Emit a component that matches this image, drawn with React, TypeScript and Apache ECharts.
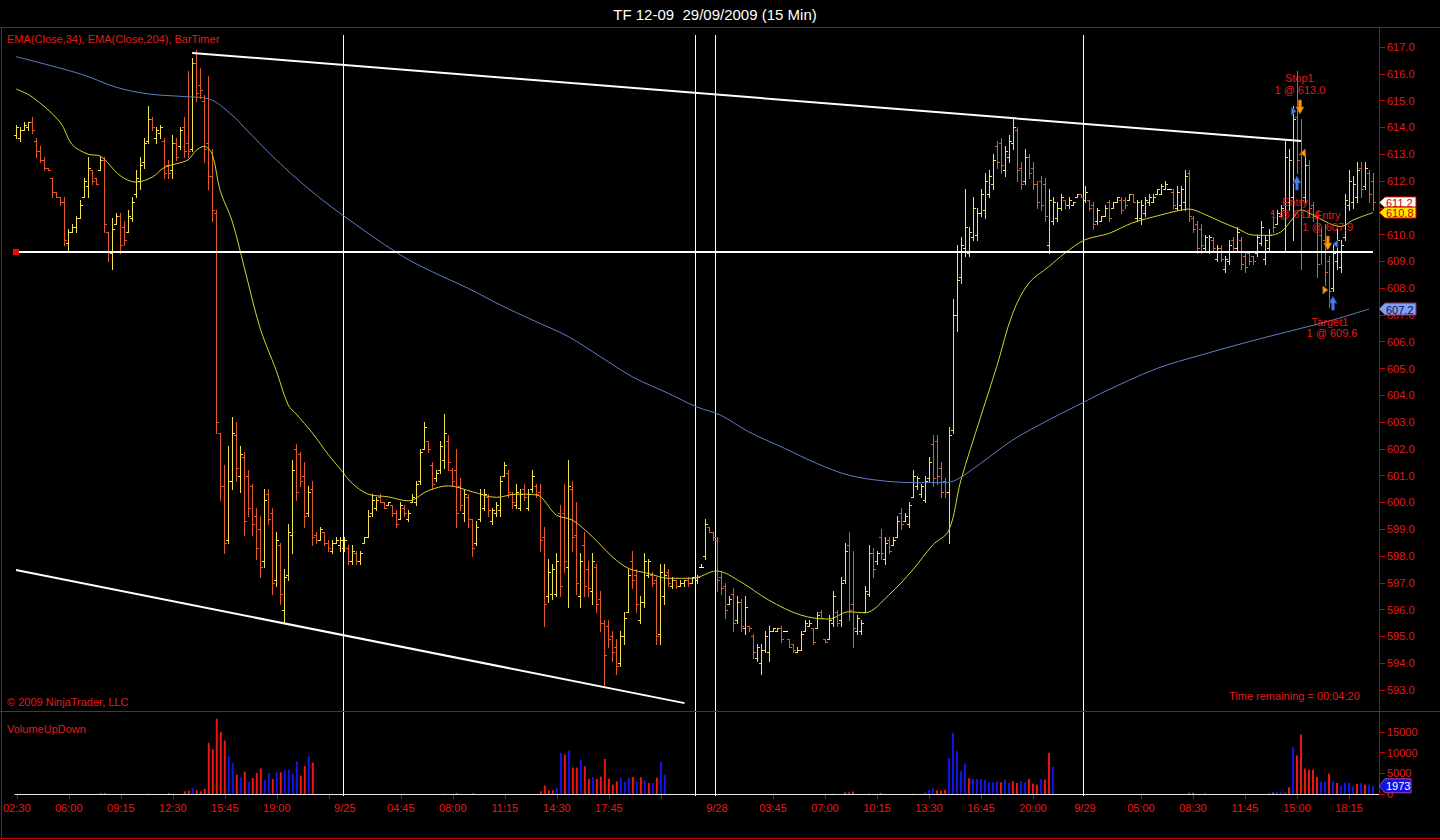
import React, { useEffect, useRef } from "react";
import * as echarts from "echarts";

// [open, high, low, close] per 15-min bar
type Bar = [number, number, number, number];

const sep24: Bar[] = [
  [613.7,614.1,613.6,614.0],[613.6,614.0,613.5,613.9],[613.9,614.2,613.9,614.1],[614.0,614.2,613.9,614.2],
  [614.2,614.4,613.8,613.9],[613.5,613.6,612.9,613.1],[613.1,613.3,612.7,612.8],[612.8,612.9,612.4,612.5],
  [612.5,612.5,612.4,612.4],[612.1,612.1,611.4,611.6],[611.6,611.6,611.4,611.4],[611.4,611.4,611.1,611.2],
  [611.2,611.4,609.6,609.8],[609.7,610.2,609.4,610.1],[610.1,610.4,610.1,610.3],[610.3,610.7,610.1,610.6],
  [610.6,611.3,610.6,611.1],[611.4,612.1,611.4,612.0],[611.8,612.9,611.4,612.5],[612.4,612.4,611.9,612.0],
  [612.1,612.1,611.9,611.9],[612.4,612.9,612.4,612.8],[612.8,612.9,610.1,610.4],[610.1,610.1,609.0,609.4],
  [609.3,610.6,608.7,610.2],[610.4,610.8,610.4,610.7],[610.7,610.8,609.3,609.6],[610.3,610.5,609.6,609.8],
  [610.1,610.9,610.1,610.7],[610.6,611.4,610.5,611.2],[611.5,612.4,611.4,612.1],[612.0,612.9,611.7,612.6],
  [612.7,613.6,612.5,613.4],[613.5,614.8,613.4,614.3],[614.3,614.4,613.9,614.0],[613.6,614.0,613.4,613.9],
  [613.8,614.1,613.6,614.0],[613.5,613.6,612.1,612.3],[612.6,612.8,612.1,612.3],[612.4,613.7,612.1,613.4],
  [613.4,613.6,612.8,612.9],[613.3,614.0,613.2,613.9],[614.0,614.4,612.9,613.1],[613.4,616.1,612.9,613.1],
  [613.2,616.6,613.1,616.4],[616.4,616.9,615.0,615.3],[615.6,616.2,615.1,615.4],[615.0,615.2,612.7,613.2],
  [613.4,615.9,611.7,612.2],[612.2,613.2,610.5,610.9],[610.8,610.9,602.6,603.0],[602.6,602.6,600.1,600.6],
  [600.6,601.4,598.1,598.5],[598.6,602.1,598.5,600.8],[600.8,603.2,600.5,602.6],[602.5,603.0,600.8,601.3],
  [601.0,602.1,600.4,601.8],[601.7,601.9,598.8,599.3],[601.0,601.2,599.5,599.8],[600.6,600.7,598.8,599.2],
  [599.5,599.8,597.9,598.3],[599.0,599.5,597.2,597.6],[597.8,600.5,597.6,600.1],[600.3,600.5,599.2,599.4],
  [599.6,599.8,596.6,597.0],[597.1,598.9,596.9,598.6],[598.4,598.5,596.2,596.6],[596.0,597.5,595.5,597.2],
  [597.3,599.2,597.1,598.9],[598.8,601.6,598.1,601.2],[602.0,602.2,600.1,600.4],[601.8,601.9,600.6,600.8],
  [601.0,601.5,599.1,599.5],[599.6,600.6,599.5,600.4],[600.5,600.8,598.4,598.7],[598.8,598.9,598.5,598.6],
  [598.6,599.1,598.6,599.0],[598.9,598.9,598.4,598.5],[598.5,598.6,598.2,598.3],[598.2,598.6,598.1,598.5],
  [598.5,598.7,598.5,598.6],[598.4,598.7,598.2,598.6],
];

const sep25: Bar[] = [
  [598.3,598.7,598.2,598.6],[598.3,598.4,597.7,597.8],[597.8,598.4,597.7,598.2],[598.1,598.2,597.7,597.8],
  [597.8,598.2,597.7,598.1],[598.5,598.7,598.5,598.7],[598.7,599.7,598.7,599.5],[599.6,600.3,599.5,600.1],
  [599.8,600.2,599.7,600.1],[600.2,600.3,600.0,600.0],[600.0,600.0,599.8,599.8],[599.9,600.0,599.9,600.0],
  [599.9,599.9,599.5,599.6],[599.6,599.7,599.1,599.2],[599.4,600.0,599.4,599.9],[599.8,599.9,599.5,599.6],
  [599.4,599.7,599.3,599.6],[600.0,600.3,600.0,600.2],[600.0,600.8,599.9,600.7],[600.8,602.0,600.7,601.9],
  [602.0,603.0,602.0,602.8],[602.3,602.3,601.9,602.0],[601.4,601.5,600.5,600.7],[600.9,601.2,600.8,601.1],
  [601.2,602.3,601.1,602.1],[601.6,603.3,601.3,602.6],[602.3,602.5,601.2,601.5],[601.2,601.3,600.6,600.8],
  [601.2,602.0,599.1,599.6],[600.6,600.9,599.7,599.9],[599.6,600.5,599.3,600.3],[600.2,600.3,599.1,599.4],
  [599.4,599.4,598.0,598.3],[598.5,599.3,598.4,599.1],[599.4,600.5,599.3,600.3],[599.8,600.5,599.7,600.3],
  [600.2,600.3,599.5,599.7],[599.3,599.8,599.2,599.7],[599.6,600.0,599.5,599.9],[599.7,601.0,599.5,600.8],
  [601.0,601.5,601.0,601.4],[601.1,601.2,600.2,600.4],[600.3,600.4,599.8,600.0],[599.9,600.7,599.8,600.4],
  [599.8,600.5,599.7,600.3],[600.5,600.7,600.1,600.2],[599.8,600.5,599.7,600.3],[600.5,601.2,600.4,601.0],
  [600.6,600.7,600.2,600.3],[600.4,600.7,598.2,598.6],[598.7,599.1,595.4,596.2],[596.5,597.9,596.3,597.4],
  [596.6,597.7,596.4,597.5],[596.6,598.1,596.5,597.8],[599.6,599.9,596.5,596.9],[599.6,600.7,597.4,597.8],
  [597.6,601.6,596.1,600.6],[600.5,600.8,598.2,598.7],[598.8,600.0,596.6,597.0],[596.5,598.1,596.1,597.8],
  [598.4,598.9,596.5,596.9],[597.5,597.8,596.5,596.8],[596.7,598.1,596.2,597.8],[597.6,597.7,595.9,596.2],
  [596.4,596.7,595.2,595.5],[595.5,595.6,593.1,594.3],[595.4,595.6,594.6,594.9],[595.0,595.2,594.1,594.4],
  [594.6,594.9,593.6,593.9],[594.0,595.2,593.9,595.0],[595.0,595.9,594.7,595.7],[595.9,597.5,595.9,597.3],
  [597.8,598.2,596.8,597.1],[597.3,597.5,595.9,596.2],[595.6,596.5,595.5,596.3],[596.3,598.1,596.1,597.8],
  [597.3,597.9,597.2,597.8],[597.3,597.4,596.9,597.0],[597.1,597.2,594.7,595.0],[595.1,597.7,594.7,597.4],
  [596.5,597.7,596.2,597.3],[597.4,597.5,596.9,597.0],[596.9,597.2,596.8,597.1],[597.1,597.1,596.8,596.9],
  [596.9,597.1,596.9,597.0],[597.0,597.1,596.9,597.1],[597.1,597.2,596.9,597.0],[597.0,597.2,597.0,597.2],
];

const sep27: Bar[] = [
  [597.1,597.3,597.0,597.2],[597.6,597.7,597.6,597.6],[598.0,599.4,597.9,599.2],[599.1,599.1,598.9,598.9],
  [598.9,598.9,598.6,598.7],
];

const sep28: Bar[] = [
  [598.6,598.7,596.7,597.1],[597.2,597.4,596.6,596.8],[596.9,597.0,595.7,596.0],[596.2,596.5,596.2,596.4],
  [596.6,596.8,595.2,595.5],[595.6,596.5,595.5,596.3],[596.3,596.4,595.2,595.4],[595.3,596.5,595.1,596.1],
  [595.4,595.4,595.2,595.3],[595.0,595.1,594.2,594.4],[594.2,594.7,594.1,594.6],[594.0,594.7,593.6,594.5],
  [594.5,595.2,594.4,595.0],[594.4,595.4,594.1,595.2],[595.2,595.3,595.2,595.3],[595.2,595.3,595.2,595.3],
  [595.3,595.4,594.8,594.9],[595.2,595.2,595.2,595.2],[594.9,594.9,594.6,594.6],[594.7,594.7,594.4,594.5],
  [594.4,594.6,594.4,594.5],[594.5,595.2,594.5,595.1],[595.2,595.6,595.2,595.5],[595.4,595.6,595.4,595.5],
  [595.3,595.3,594.7,594.8],[595.3,595.9,595.3,595.8],[595.9,596.0,595.7,595.7],[594.9,594.9,594.8,594.8],
  [594.9,595.8,594.9,595.6],[595.5,596.7,595.4,596.5],[595.9,596.0,595.4,595.5],[595.6,597.2,595.4,597.0],
  [597.1,598.5,597.0,598.2],[598.4,598.9,595.6,596.0],[596.2,598.2,594.6,595.3],[595.2,595.8,595.1,595.7],
  [595.2,595.6,595.1,595.5],[595.9,596.9,595.9,596.7],[596.6,598.4,596.5,598.1],[598.1,598.3,597.2,597.5],
  [597.8,598.2,597.7,598.1],[598.7,599.0,597.9,598.1],[597.9,598.7,597.7,598.5],[598.6,598.7,598.1,598.2],
  [598.4,598.7,598.4,598.6],[598.7,599.5,598.7,599.3],[599.6,599.8,599.0,599.2],[599.3,599.6,599.3,599.5],
  [599.2,600.0,599.1,599.9],[600.2,601.2,600.2,601.0],[600.6,601.0,600.5,600.9],[600.3,600.7,600.2,600.6],
  [600.1,601.0,600.0,600.8],[600.9,601.7,600.8,601.5],[602.2,602.5,600.6,600.9],[602.3,602.5,600.7,601.0],
  [601.3,601.5,600.2,600.4],[600.8,600.9,600.2,600.4],[600.4,602.8,598.5,602.5],[602.7,607.6,602.6,607.0],
  [607.0,609.6,606.4,608.3],[608.4,609.9,608.2,609.6],[609.5,611.7,609.2,610.3],[609.3,610.3,609.2,610.1],
  [609.9,611.4,609.8,611.0],[610.0,611.0,609.8,610.8],[610.8,611.7,610.7,611.5],[610.9,612.3,610.6,612.0],
  [611.5,612.4,611.4,612.2],[611.9,613.0,611.7,612.8],[613.3,613.5,612.5,612.7],[613.4,613.6,612.3,612.6],
  [612.4,613.3,612.2,613.1],[612.9,613.7,612.7,613.5],[613.4,614.3,613.2,614.0],[613.9,614.0,612.0,612.4],
  [612.5,612.7,611.7,611.9],[612.0,613.2,611.9,612.9],[612.9,613.0,612.1,612.3],[612.5,612.7,611.7,611.9],
  [611.9,612.0,611.0,611.2],[612.0,612.2,610.9,611.1],[611.9,612.1,610.5,610.7],[609.6,611.7,609.3,611.3],
  [610.5,611.4,610.4,611.2],[610.6,611.2,610.5,611.0],[611.0,611.5,610.9,611.4],[611.3,611.3,611.0,611.1],
  [611.1,611.4,611.0,611.3],[611.1,611.2,611.1,611.2],[611.4,611.5,611.4,611.5],[611.5,611.5,611.4,611.4],
];

const sep29: Bar[] = [
  [611.3,611.8,611.2,611.6],[611.3,611.3,610.9,611.0],[611.1,611.2,610.2,610.4],[610.5,611.0,610.4,610.9],
  [610.5,610.7,610.5,610.7],[610.7,611.1,610.7,611.0],[611.2,611.3,610.5,610.6],[611.0,611.2,611.0,611.2],
  [611.2,611.4,611.2,611.4],[611.3,611.4,610.8,610.9],[611.3,611.4,611.0,611.1],[611.3,611.5,611.3,611.5],
  [611.5,611.5,611.2,611.2],[610.6,611.3,610.5,611.2],[610.6,611.3,610.4,611.1],[610.8,611.4,610.7,611.3],
  [611.2,611.5,611.1,611.4],[611.2,611.5,611.2,611.4],[611.5,611.7,611.5,611.7],[611.5,611.9,611.5,611.8],
  [611.7,612.0,611.7,611.9],[611.7,611.7,611.7,611.7],[611.6,611.7,611.0,611.1],[611.0,611.8,610.9,611.6],
  [611.1,611.8,610.9,611.7],[611.2,612.4,610.9,612.2],[612.3,612.4,610.5,610.7],[610.6,610.7,610.1,610.2],
  [610.4,610.5,609.3,609.5],[610.2,610.4,609.3,609.6],[609.5,610.0,609.4,609.9],[609.4,610.0,609.3,609.9],
  [609.8,609.9,609.4,609.5],[609.1,609.6,609.0,609.5],[609.5,609.6,609.0,609.1],[608.7,609.2,608.6,609.1],
  [609.0,609.8,608.9,609.6],[609.8,609.9,609.4,609.5],[609.5,610.3,609.4,610.1],[609.8,609.9,608.7,608.9],
  [609.2,609.3,608.6,608.8],[609.3,609.4,608.9,609.0],[609.2,609.2,608.9,609.0],[609.3,610.0,609.2,609.9],
  [609.7,610.5,609.6,610.3],[609.1,610.0,608.9,609.8],[609.5,610.2,609.4,610.0],[610.8,610.9,610.1,610.3],
  [610.4,610.9,610.4,610.8],[610.7,611.1,610.7,611.0],[610.9,613.5,609.4,612.9],[611.2,613.2,610.9,612.8],
  [611.4,614.8,609.8,614.3],[614.4,616.1,612.3,612.8],[613.0,614.3,608.7,611.3],[611.4,613.0,611.2,612.6],
  [612.6,612.8,610.7,611.0],[611.1,611.2,610.5,610.7],[610.6,610.7,608.4,608.9],[610.0,610.3,608.9,609.4],
  [609.8,610.4,608.1,608.6],[609.0,609.2,607.3,607.9],[608.0,609.6,607.9,609.3],[609.0,610.2,608.7,609.8],
  [608.8,609.8,608.6,609.6],[609.9,611.5,609.8,611.3],[611.1,612.4,610.9,612.0],[611.2,612.2,611.0,611.9],
  [611.4,612.7,611.2,612.4],[612.5,612.7,611.4,611.7],[611.8,612.7,611.7,612.5],[612.3,612.4,611.2,611.5],
  [612.0,612.3,610.9,611.2],
];

const ohlc: Bar[] = [...sep24, ...sep25, ...sep27, ...sep28, ...sep29];

// [bar index, volume, side] — VolumeUpDown: 'u' = up volume (blue), 'd' = down volume (red)
const volumeBars: [number, number, "u" | "d"][] = [
  [21,250,"d"],[22,250,"d"],[33,200,"u"],[38,250,"d"],[42,650,"d"],[43,800,"d"],[44,1450,"u"],[45,890,"d"],
  [46,650,"d"],[47,1290,"d"],[48,12330,"d"],[49,10720,"d"],[50,18130,"d"],[51,14990,"d"],[52,12900,"d"],
  [53,9270,"u"],[54,7500,"u"],[55,4680,"d"],[56,4110,"u"],[57,5400,"d"],[58,2980,"u"],[59,3870,"d"],
  [60,5080,"d"],[61,6200,"d"],[62,3470,"u"],[63,5080,"u"],[64,3630,"d"],[65,5240,"u"],[66,5240,"d"],
  [67,5800,"u"],[68,5880,"u"],[69,4920,"u"],[70,7900,"u"],[71,4430,"d"],[72,6770,"d"],[73,9270,"u"],
  [74,7580,"d"],
  [107,150,"u"],[110,250,"d"],[114,200,"d"],[131,650,"d"],[132,2020,"d"],[133,890,"d"],[134,890,"d"],
  [135,1450,"u"],[136,9910,"u"],[137,9510,"d"],[138,10480,"u"],[139,6370,"d"],[140,6370,"d"],[141,8300,"u"],
  [142,6690,"d"],[143,3630,"d"],[144,4110,"u"],[145,3630,"d"],[146,4190,"d"],[147,8460,"d"],[148,3710,"d"],
  [149,2260,"d"],[150,3060,"d"],[151,3950,"u"],[152,2900,"u"],[153,3950,"u"],[154,4110,"d"],[155,2980,"u"],
  [156,4030,"d"],[157,3300,"u"],[158,2660,"d"],[159,2660,"u"],[160,3950,"d"],[161,7740,"u"],[162,4680,"u"],
  [204,150,"u"],[207,400,"d"],[208,400,"d"],[209,600,"d"],[213,200,"u"],[216,250,"d"],[224,150,"u"],
  [227,400,"u"],[228,1050,"u"],[229,1370,"u"],[230,890,"d"],[231,800,"d"],[232,1050,"d"],[233,8700,"u"],
  [234,14750,"u"],[235,10320,"u"],[236,5480,"u"],[237,7330,"u"],[238,3790,"d"],[239,3630,"u"],[240,3630,"u"],
  [241,3630,"u"],[242,3470,"u"],[243,2820,"u"],[244,2820,"u"],[245,3060,"u"],[246,2820,"d"],[247,3470,"u"],
  [248,2660,"u"],[249,3060,"d"],[250,2660,"d"],[251,3060,"u"],[252,2820,"u"],[253,3630,"d"],[254,2500,"d"],
  [255,2260,"d"],[256,3630,"u"],[257,3470,"d"],[258,9910,"d"],[259,6530,"u"],
  [293,300,"d"],[294,300,"d"],[297,250,"u"],[313,300,"u"],[314,400,"d"],[315,500,"u"],[316,400,"u"],
  [317,600,"u"],[318,1610,"d"],[319,11280,"u"],[320,9270,"d"],[321,14350,"d"],[322,6130,"d"],[323,5880,"d"],
  [324,5880,"d"],[325,4110,"d"],[326,2980,"u"],[327,2980,"u"],[328,4920,"d"],[329,2980,"u"],[330,2660,"d"],
  [331,2020,"u"],[332,2740,"u"],[333,2740,"u"],[334,1850,"u"],[335,2420,"d"],[336,2580,"u"],[337,2260,"d"],
  [338,2260,"u"],[339,1973,"u"],
];

// EMA readings [bar index, value]
const ema34: [number, number][] = [
  [0,615.43],[4,615.14],[11,614.2],[14,613.36],[18,613.0],[21,612.93],[26,612.2],[30,611.96],[34,612.14],
  [37,612.5],[40,612.64],[43,612.79],[45,613.14],[47,613.29],[49,613.0],[51,611.64],[54,610.5],[57,608.79],
  [61,606.5],[65,604.93],[68,603.64],[70,603.3],[74,602.6],[78,601.79],[81,601.25],[84,600.71],[88,600.31],
  [93,600.21],[98,600.06],[103,600.44],[108,600.62],[114,600.4],[120,600.19],[125,600.31],[130,600.28],
  [135,599.53],[139,599.34],[144,598.72],[149,597.97],[153,597.54],[158,597.35],[163,597.17],[169,597.17],
  [175,597.44],[181,597.04],[188,596.36],[196,595.8],[203,595.65],[208,595.92],[212,595.88],[218,596.54],
  [224,597.48],[229,598.41],[233,598.95],[236,600.8],[241,603.2],[245,605.07],[249,607.06],[253,608.18],
  [258,608.8],[262,609.3],[267,609.8],[273,610.04],[279,610.44],[286,610.73],[290,610.88],[293,610.95],
  [297,610.75],[301,610.48],[305,610.23],[309,609.98],[313,609.97],[316,610.1],[319,610.6],[321,610.92],
  [324,610.73],[328,610.42],[331,610.3],[334,610.54],[339,610.82],
];
const ema204: [number, number][] = [
  [0,616.64],[8,616.33],[17,615.95],[25,615.5],[33,615.25],[42,615.15],[48,615.07],[54,614.46],[57,614.0],
  [65,612.79],[73,611.72],[81,610.79],[96,609.24],[104,608.61],[113,607.99],[121,607.37],[129,606.81],
  [138,606.19],[146,605.44],[154,604.69],[163,604.07],[170,603.57],[176,603.26],[183,602.64],[192,602.02],
  [200,601.46],[208,601.02],[217,600.8],[225,600.74],[232,600.74],[235,600.85],[241,601.46],[249,602.33],
  [258,603.08],[267,603.76],[271,604.07],[285,605.0],[296,605.5],[308,606.0],[321,606.5],[329,606.81],
  [338,607.22],
];

const timeTicks: [number, string][] = [
  [0,"02:30"],[13,"06:00"],[26,"09:15"],[39,"12:30"],[52,"15:45"],[65,"19:00"],[78,""],
  [96,"04:45"],[109,"08:00"],[122,"11:15"],[135,"14:30"],[148,"17:45"],[161,""],
  [189,"03:45"],[202,"07:00"],[215,"10:15"],[228,"13:30"],[241,"16:45"],[254,"20:00"],
  [281,"05:00"],[294,"08:30"],[307,"11:45"],[320,"15:00"],[333,"18:15"],
];
const dateLabels: [number, string][] = [[82,"9/25"],[175,"9/28"],[267,"9/29"]];
const priceTicks = [593,594,595,596,597,598,599,600,601,602,603,604,605,606,607,608,609,610,611,612,613,614,615,616,617];
// 611.0 sits under the last-price markers in the reference, so its label is not shown
const priceLabels = [593,594,595,596,597,598,599,600,601,602,603,604,605,606,607,608,609,610,612,613,614,615,616,617];
const volumeTicks = [0, 5000, 10000, 15000];
const sessionStarts = [82, 170, 175, 267];

// drawn objects
const levelLine: [number, number][] = [[0,609.35],[169,609.35],[339,609.35]];
const upperTrend: [number, number][] = [[44,616.78],[321,613.49]];
const lowerTrend: [number, number][] = [[0,597.48],[167,592.51]];

// trade annotations (bar position, price level, text)
const tradeTexts: [number, number, string][] = [
  [320.6,615.83,"Stop1"],[320.75,615.39,"1 @ 613.0"],
  [319.5,611.2,"Entry"],[319.5,610.77,"1 @ 611.4"],
  [327.7,610.73,"Entry"],[327.7,610.27,"1 @ 607.9"],
  [328.25,606.75,"Target1"],[328.75,606.31,"1 @ 609.6"],
];
const tradeMarks: [number, number, string][] = [
  [320.75,614.76,"downArrow"],[319.2,614.6,"triRight"],[321.5,613.04,"triLeft"],[320,611.92,"upArrow"],
  [327.7,609.68,"downArrow"],[329.6,609.65,"triLeftBlue"],[327.1,607.93,"triRightOrange"],[329,607.44,"upArrow"],
];

const FONT = '"Liberation Sans", Arial, Helvetica, sans-serif';
const RED_TEXT = "#e01c1c";
const FRAME = "#c80000";
const UP = "#f2e24e";
const DOWN = "#e2592c";
const DOJI = "#ffffff";
const VOL_UP = "#1414e8";
const VOL_DOWN = "#ee1414";
const EMA34_COLOR = "#d4d42a";
const EMA204_COLOR = "#5f7fc6";

// layout
const GRID_LEFT = 14;
const GRID_RIGHT = 61;
const PRICE_TOP = 27;
const PRICE_HEIGHT = 684;
const PRICE_MAX = 617 + 20 * (24 / 643);
const PRICE_MIN = 593 - 21 * (24 / 643);
const VOL_TOP = 711;
const VOL_HEIGHT = 83;

function buildOption(): any {
  const slotCount = ohlc.length + 1;
  const categories = Array.from({ length: slotCount }, (_, i) => String(i));
  const labelMap = new Map<number, string>([...timeTicks, ...dateLabels]);
  const tickSet = new Set(timeTicks.map((t) => t[0]));
  const volMap = new Map<number, [number, string]>();
  volumeBars.forEach(([i, v, s]) => volMap.set(i, [v, s]));
  const volData = ohlc.map((_, i) => {
    const e = volMap.get(i);
    return e
      ? { value: e[0], itemStyle: { color: e[1] === "u" ? VOL_UP : VOL_DOWN } }
      : { value: 0, itemStyle: { color: VOL_UP } };
  });

  const axisText = { color: RED_TEXT, fontSize: 11, fontFamily: FONT };

  return {
    animation: false,
    backgroundColor: "#000000",
    grid: [
      { left: GRID_LEFT, right: GRID_RIGHT, top: PRICE_TOP, height: PRICE_HEIGHT },
      { left: GRID_LEFT, right: GRID_RIGHT, top: VOL_TOP, height: VOL_HEIGHT },
    ],
    xAxis: [
      { type: "category", gridIndex: 0, data: categories, show: false },
      {
        type: "category",
        gridIndex: 1,
        data: categories,
        offset: 2,
        axisLine: { show: true, lineStyle: { color: FRAME, width: 1 } },
        axisTick: {
          show: true,
          alignWithLabel: true,
          length: 5,
          interval: (i: number) => tickSet.has(i),
          lineStyle: { color: FRAME },
        },
        axisLabel: {
          ...axisText,
          margin: 6,
          interval: (i: number) => labelMap.has(i),
          formatter: (v: string) => labelMap.get(Number(v)) ?? "",
        },
        splitLine: { show: false },
      },
    ],
    yAxis: [
      {
        type: "value",
        gridIndex: 0,
        position: "right",
        min: PRICE_MIN,
        max: PRICE_MAX,
        axisLine: { show: true, lineStyle: { color: FRAME } },
        axisTick: { show: true, length: 6, lineStyle: { color: FRAME }, customValues: priceTicks },
        axisLabel: { ...axisText, margin: 8, customValues: priceLabels, formatter: (v: number) => v.toFixed(1) },
        splitLine: { show: false },
      },
      {
        type: "value",
        gridIndex: 1,
        position: "right",
        min: 0,
        max: 20000,
        axisLine: { show: true, lineStyle: { color: FRAME } },
        axisTick: { show: true, length: 6, lineStyle: { color: FRAME }, customValues: volumeTicks },
        axisLabel: { ...axisText, margin: 8, customValues: volumeTicks, formatter: (v: number) => String(v) },
        splitLine: { show: false },
      },
    ],
    series: [
      {
        type: "custom",
        name: "TF 12-09",
        xAxisIndex: 0,
        yAxisIndex: 0,
        clip: true,
        z: 2,
        data: ohlc.map((b, i) => [i, b[0], b[1], b[2], b[3]]),
        encode: { x: 0, y: [1, 2, 3, 4] },
        renderItem: (_params: any, api: any) => {
          const i = api.value(0);
          const o = api.value(1);
          const h = api.value(2);
          const l = api.value(3);
          const c = api.value(4);
          const pH = api.coord([i, h]);
          const pL = api.coord([i, l]);
          const yo = Math.round(api.coord([i, o])[1]) + 0.5;
          const yc = Math.round(api.coord([i, c])[1]) + 0.5;
          const x = Math.round(pH[0]) + 0.5;
          const y1 = Math.round(pH[1]);
          const y2 = Math.max(Math.round(pL[1]) + 1, y1 + 1);
          const color = c > o ? UP : c < o ? DOWN : DOJI;
          const st = { stroke: color, lineWidth: 1 };
          return {
            type: "group",
            children: [
              { type: "line", shape: { x1: x, y1, x2: x, y2 }, style: st },
              { type: "line", shape: { x1: x - 2.5, y1: yo, x2: x, y2: yo }, style: st },
              { type: "line", shape: { x1: x, y1: yc, x2: x + 2.5, y2: yc }, style: st },
            ],
          };
        },
      },
      {
        type: "line",
        name: "EMA(Close,34)",
        xAxisIndex: 0,
        yAxisIndex: 0,
        data: ema34,
        smooth: 0.35,
        showSymbol: false,
        z: 3,
        lineStyle: { color: EMA34_COLOR, width: 1 },
      },
      {
        type: "line",
        name: "EMA(Close,204)",
        xAxisIndex: 0,
        yAxisIndex: 0,
        data: ema204,
        smooth: 0.35,
        showSymbol: false,
        z: 3,
        lineStyle: { color: EMA204_COLOR, width: 1 },
      },
      {
        type: "line",
        name: "level",
        xAxisIndex: 0,
        yAxisIndex: 0,
        data: levelLine,
        symbol: "rect",
        symbolSize: 6,
        showSymbol: true,
        z: 5,
        itemStyle: { color: "#ff0000" },
        lineStyle: { color: "#ffffff", width: 2 },
      },
      {
        type: "line",
        name: "trend-upper",
        xAxisIndex: 0,
        yAxisIndex: 0,
        data: upperTrend,
        showSymbol: false,
        z: 5,
        lineStyle: { color: "#ffffff", width: 2 },
      },
      {
        type: "line",
        name: "trend-lower",
        xAxisIndex: 0,
        yAxisIndex: 0,
        data: lowerTrend,
        showSymbol: false,
        z: 5,
        lineStyle: { color: "#ffffff", width: 2 },
      },
      {
        type: "bar",
        name: "VolumeUpDown",
        xAxisIndex: 1,
        yAxisIndex: 1,
        data: volData,
        barWidth: 2,
        z: 2,
        markLine: {
          silent: true,
          symbol: "none",
          label: { show: false },
          lineStyle: { color: "#e8e8e8", width: 1, type: "solid" },
          data: [{ yAxis: 0 }],
        },
      },
    ],
  };
}

function buildGraphics(chart: any): any[] {
  const x0 = chart.convertToPixel({ xAxisIndex: 0 }, 0) as number;
  const x1 = chart.convertToPixel({ xAxisIndex: 0 }, 1) as number;
  const px = (bar: number) => x0 + (x1 - x0) * bar;
  const py = (p: number) => chart.convertToPixel({ yAxisIndex: 0 }, p) as number;
  const vy = (v: number) => chart.convertToPixel({ yAxisIndex: 1 }, v) as number;
  const axisX = 1440 - GRID_RIGHT;

  const els: any[] = [];
  const hLine = (y: number, xa: number, xb: number, color: string) =>
    els.push({ type: "line", z: 90, silent: true, shape: { x1: xa, y1: y, x2: xb, y2: y }, style: { stroke: color, lineWidth: 1 } });
  const vLine = (x: number, ya: number, yb: number, color: string, z = 90) =>
    els.push({ type: "line", z, silent: true, shape: { x1: x, y1: ya, x2: x, y2: yb }, style: { stroke: color, lineWidth: 1 } });

  // panel frame
  hLine(27.5, 0, 1440, FRAME);
  hLine(711.5, 0, 1440, FRAME);
  hLine(838.5, 0, 1440, FRAME);
  vLine(1.5, 27, 839, FRAME);

  // session break lines
  sessionStarts.forEach((s) => vLine(Math.floor(px(s)) - 0.5, 35, 796, "#ffffff", 1));

  const text = (x: number, y: number, t: string, color: string, size: number, align = "left") =>
    els.push({
      type: "text",
      z: 100,
      silent: true,
      x,
      y,
      style: { text: t, fill: color, font: `${size}px ${FONT}`, align, verticalAlign: "middle" },
    });

  text(715, 14, "TF 12-09  29/09/2009 (15 Min)", "#ffffff", 15, "center");
  text(7, 39, "EMA(Close,34), EMA(Close,204), BarTimer", RED_TEXT, 11);
  text(7, 702, "\u00a9 2009 NinjaTrader, LLC", RED_TEXT, 11);
  text(1229, 696, "Time remaining = 00:04:20", RED_TEXT, 11);
  text(7, 729, "VolumeUpDown", RED_TEXT, 11);

  // trade annotations
  tradeTexts.forEach(([b, p, t]) => text(px(b), py(p), t, RED_TEXT, 11, "center"));
  const ORANGE = "#ff9c00";
  const ORANGE_EDGE = "#a85a00";
  const BLUE = "#4c7fe0";
  const BLUE_EDGE = "#1c3c90";
  tradeMarks.forEach(([b, p, kind]) => {
    const cx = px(b);
    const cy = py(p);
    let points: number[][] = [];
    let fill = ORANGE;
    let stroke = ORANGE_EDGE;
    if (kind === "downArrow") {
      points = [[cx - 1.5, cy - 7], [cx + 1.5, cy - 7], [cx + 1.5, cy], [cx + 4, cy], [cx, cy + 7], [cx - 4, cy], [cx - 1.5, cy]];
    } else if (kind === "upArrow") {
      points = [[cx - 1.5, cy + 7], [cx + 1.5, cy + 7], [cx + 1.5, cy], [cx + 4, cy], [cx, cy - 7], [cx - 4, cy], [cx - 1.5, cy]];
      fill = BLUE;
      stroke = BLUE_EDGE;
    } else if (kind === "triRight" || kind === "triRightOrange") {
      points = [[cx - 2.5, cy - 4], [cx + 2.5, cy], [cx - 2.5, cy + 4]];
      if (kind === "triRight") { fill = BLUE; stroke = BLUE_EDGE; }
    } else {
      points = [[cx + 2.5, cy - 4], [cx - 2.5, cy], [cx + 2.5, cy + 4]];
      if (kind === "triLeftBlue") { fill = BLUE; stroke = BLUE_EDGE; }
    }
    els.push({ type: "polygon", z: 95, silent: true, shape: { points }, style: { fill, stroke, lineWidth: 0.8 } });
  });

  // value markers on the axis
  const marker = (y: number, label: string, fill: string, stroke: string, color: string, w: number, hh: number) => {
    els.push({
      type: "polygon",
      z: 110,
      silent: true,
      shape: { points: [[axisX, y], [axisX + 6, y - hh], [axisX + w, y - hh], [axisX + w, y + hh], [axisX + 6, y + hh]] },
      style: { fill, stroke, lineWidth: 1 },
    });
    els.push({
      type: "text",
      z: 111,
      silent: true,
      x: axisX + 7,
      y: y + 0.5,
      style: { text: label, fill: color, font: `11px ${FONT}`, align: "left", verticalAlign: "middle" },
    });
  };
  const last = ohlc[ohlc.length - 1];
  const lastE34 = ema34[ema34.length - 1][1];
  const lastE204 = ema204[ema204.length - 1][1];
  const lastVol = volumeBars[volumeBars.length - 1][1];
  marker(py(last[3]), last[3].toFixed(1), "#ffffff", "#d00000", "#d00000", 37, 5.5);
  marker(py(lastE34), lastE34.toFixed(1), "#ffe600", "#d00000", "#c00000", 37, 5.5);
  marker(py(lastE204), lastE204.toFixed(1), "#7f9ff0", "#803060", "#0c0c50", 37, 6);
  marker(vy(lastVol), String(lastVol), "#1010e8", "#b040b0", "#ffffff", 32, 7);

  return els;
}

export default function App() {
  const ref = useRef<HTMLDivElement>(null);
  useEffect(() => {
    document.body.style.margin = "0";
    document.body.style.background = "#000000";
    const el = ref.current;
    if (!el) return;
    const chart = echarts.init(el, null, { renderer: "svg" });
    chart.setOption(buildOption());
    chart.setOption({ graphic: buildGraphics(chart) });
    return () => {
      chart.dispose();
    };
  }, []);
  return <div ref={ref} style={{ width: 1440, height: 840, background: "#000000" }} />;
}
